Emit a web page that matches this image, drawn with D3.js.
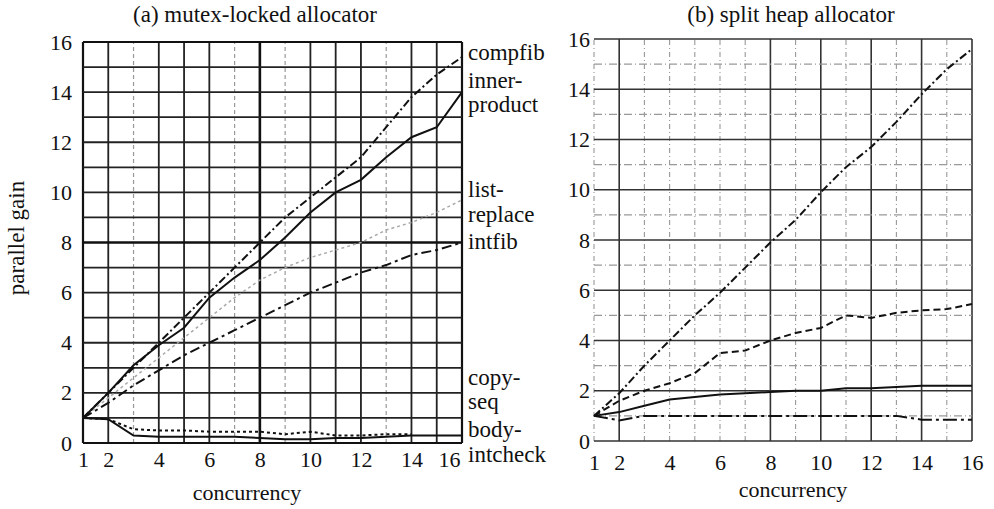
<!DOCTYPE html>
<html>
<head>
<meta charset="utf-8">
<script src="https://cdn.jsdelivr.net/npm/d3@7"></script>
<style>
  body { margin: 0; background: #fff; }
</style>
</head>
<body>
<div id="chart"></div>
<script>
const width = 994;
const height = 509;
const serif = "'Liberation Serif', 'DejaVu Serif', serif";

// concurrency values (x)
const concurrency = [1, 2, 3, 4, 5, 6, 7, 8, 9, 10, 11, 12, 13, 14, 15, 16];
const xTicks = [1, 2, 4, 6, 8, 10, 12, 14, 16];
const yTicks = [0, 2, 4, 6, 8, 10, 12, 14, 16];

// (a) mutex-locked allocator
const aCompfib = [1, 2, 3, 4, 5, 6, 7, 8, 9, 9.8, 10.6, 11.4, 12.6, 13.8, 14.7, 15.4];
const aInnerProduct = [1, 2, 3.1, 3.9, 4.6, 5.8, 6.6, 7.3, 8.2, 9.2, 10.0, 10.5, 11.4, 12.2, 12.6, 14.0];
const aListReplace = [1, 1.8, 2.6, 3.4, 4.2, 5.0, 5.8, 6.5, 7.0, 7.4, 7.7, 8.0, 8.5, 8.8, 9.2, 9.7];
const aIntfib = [1, 1.6, 2.3, 2.9, 3.5, 4.0, 4.5, 5.0, 5.5, 6.0, 6.4, 6.8, 7.1, 7.5, 7.7, 8.0];
const aCopySeq = [1, 0.95, 0.55, 0.5, 0.5, 0.45, 0.45, 0.45, 0.35, 0.45, 0.3, 0.3, 0.35, 0.35, null, null];
const aBodyIntcheck = [1, 0.95, 0.3, 0.25, 0.25, 0.25, 0.25, 0.2, 0.15, 0.15, 0.2, 0.2, 0.25, 0.3, 0.3, 0.3];

// (b) split heap allocator
const bCompfib = [1, 1.9, 3.0, 4.0, 5.0, 5.9, 6.9, 7.9, 8.8, 9.9, 10.9, 11.7, 12.7, 13.8, 14.8, 15.6];
const bIntfib = [1, 1.6, 2.0, 2.3, 2.7, 3.5, 3.6, 4.0, 4.3, 4.5, 5.0, 4.9, 5.1, 5.2, 5.25, 5.45];
const bInnerProduct = [1, 1.15, 1.4, 1.65, 1.75, 1.85, 1.9, 1.95, 2.0, 2.0, 2.1, 2.1, 2.15, 2.2, 2.2, 2.2];
const bBodyIntcheck = [1, 0.82, 1.0, 1.0, 1.0, 1.0, 1.0, 1.0, 1.0, 1.0, 1.0, 1.0, 1.0, 0.85, 0.85, 0.85];

// series labels to the right of panel (a), one entry per text line
const labelText = ["compfib", "inner-", "product", "list-", "replace", "intfib", "copy-", "seq", "body-", "intcheck"];
const labelY = [60, 88, 112, 197, 222, 249, 385, 409, 437, 462];

const svg = d3.select("#chart").append("svg").attr("width", width).attr("height", height);

function styleText(sel, size) {
    sel.attr("font-family", serif)
        .style("font-family", serif)
        .style("font-size", size + "px")
        .attr("fill", "#111");
}

function drawPanel(opts) {
    const x = d3.scaleLinear().domain([1, 16]).range(opts.xRange);
    const y = d3.scaleLinear().domain([0, 16]).range(opts.yRange);
    const g = svg.append("g");

    // grid
    d3.range(1, 17).forEach(v => {
        const st = opts.vStyle(v);
        g.append("line")
            .attr("x1", x(v)).attr("x2", x(v))
            .attr("y1", y(0)).attr("y2", y(16))
            .attr("stroke", st.color).attr("stroke-width", st.w)
            .attr("stroke-dasharray", st.dash || null);
    });
    d3.range(0, 17).forEach(v => {
        const st = opts.hStyle(v);
        g.append("line")
            .attr("x1", x(1)).attr("x2", x(16))
            .attr("y1", y(v)).attr("y2", y(v))
            .attr("stroke", st.color).attr("stroke-width", st.w)
            .attr("stroke-dasharray", st.dash || null);
    });

    // axes
    const ax = g.append("g").attr("transform", `translate(0,${y(0)})`)
        .call(d3.axisBottom(x).tickValues(xTicks).tickSize(0).tickPadding(opts.xPad));
    ax.attr("font-family", serif).attr("font-size", 22);
    ax.select(".domain").remove();
    styleText(ax.selectAll("text"), 22);
    if (opts.lastEnd) {
        ax.selectAll("text").filter(d => d === 16).attr("text-anchor", "end").attr("x", -2);
    }
    const ay = g.append("g").attr("transform", `translate(${x(1)},0)`)
        .call(d3.axisLeft(y).tickValues(yTicks).tickSize(0).tickPadding(opts.yPad));
    ay.attr("font-family", serif).attr("font-size", 22);
    ay.select(".domain").remove();
    styleText(ay.selectAll("text"), 22);

    // series
    const line = d3.line()
        .defined(d => d[1] != null)
        .x(d => x(d[0])).y(d => y(d[1]));
    opts.series.forEach(s => {
        g.append("path")
            .datum(concurrency.map((c, i) => [c, s.values[i]]))
            .attr("fill", "none")
            .attr("stroke", s.color || "#111")
            .attr("stroke-width", s.w || 2)
            .attr("stroke-dasharray", s.dash || null)
            .attr("d", line);
    });

    // title
    g.append("text")
        .attr("x", opts.titleX).attr("y", 22)
        .attr("text-anchor", "middle")
        .text(opts.title)
        .call(styleText, 23);

    g.append("text")
        .attr("x", opts.xLabelX).attr("y", opts.xLabelY)
        .attr("text-anchor", "middle")
        .text("concurrency")
        .call(styleText, 22);
    return { x, y };
}

drawPanel({
    xRange: [83, 462], yRange: [443, 42],
    xPad: 8, yPad: 11, lastEnd: true,
    title: "(a) mutex-locked allocator", titleX: 255,
    xLabelX: 247, xLabelY: 500,
    vStyle: v => (v === 8 ? { color: "#111", w: 2.6 }
        : (v === 1 || v === 16) ? { color: "#111", w: 2.2 }
        : [3, 7, 9, 13].includes(v) ? { color: "#999", w: 1.2, dash: "4,3" }
        : { color: "#222", w: 1.8 }),
    hStyle: v => (v === 8 ? { color: "#111", w: 2.6 }
        : (v === 0 || v === 16) ? { color: "#111", w: 2.2 }
        : { color: "#222", w: 1.8 }),
    series: [
        { values: aListReplace, color: "#aaa", w: 1.5, dash: "3,3" },
        { values: aIntfib, dash: "10,4,3,4" },
        { values: aCompfib, dash: "8,3,2,3" },
        { values: aInnerProduct },
        { values: aCopySeq, dash: "3,3" },
        { values: aBodyIntcheck }
    ]
});

drawPanel({
    xRange: [594, 972], yRange: [441, 39],
    xPad: 13, yPad: 4, lastEnd: false,
    title: "(b) split heap allocator", titleX: 791,
    xLabelX: 793, xLabelY: 497,
    vStyle: v => ([2, 8, 10, 12, 14, 16].includes(v) ? { color: "#333", w: 1.6 }
        : { color: "#999", w: 1.1, dash: "5,3,1,3" }),
    hStyle: v => (v % 2 === 0 ? { color: "#333", w: 1.6 }
        : { color: "#999", w: 1.1, dash: "8,3,1,3" }),
    series: [
        { values: bBodyIntcheck, dash: "14,4,3,4" },
        { values: bInnerProduct },
        { values: bIntfib, dash: "7,4" },
        { values: bCompfib, dash: "8,3,2,3" }
    ]
});

// line labels on the right of panel (a)
svg.selectAll("text.series-label")
    .data(labelText)
    .enter()
    .append("text")
    .attr("class", "series-label")
    .attr("x", 468)
    .attr("y", (d, i) => labelY[i])
    .text(d => d)
    .call(styleText, 23);

// y axis label
svg.append("text")
    .attr("transform", "translate(24,238) rotate(-90)")
    .attr("text-anchor", "middle")
    .text("parallel gain")
    .call(styleText, 23);
</script>
</body>
</html>
